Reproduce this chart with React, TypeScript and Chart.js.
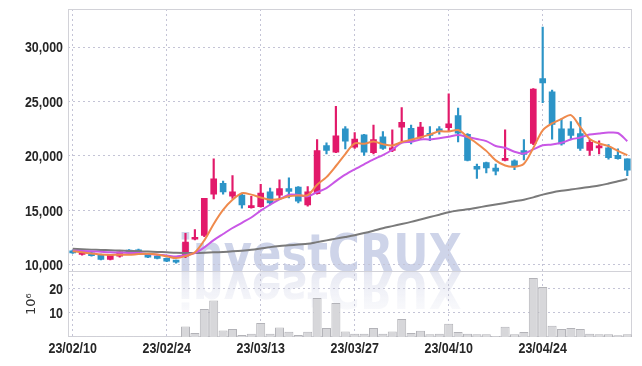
import React, { useEffect, useRef } from 'react';
import { Chart, registerables } from 'chart.js';

Chart.register(...registerables);

const dates = ['23/02/10','23/02/13','23/02/14','23/02/15','23/02/16','23/02/17','23/02/20','23/02/21','23/02/22','23/02/23','23/02/24','23/02/27','23/02/28','23/03/02','23/03/03','23/03/06','23/03/07','23/03/08','23/03/09','23/03/10','23/03/13','23/03/14','23/03/15','23/03/16','23/03/17','23/03/20','23/03/21','23/03/22','23/03/23','23/03/24','23/03/27','23/03/28','23/03/29','23/03/30','23/03/31','23/04/03','23/04/04','23/04/05','23/04/06','23/04/07','23/04/10','23/04/11','23/04/12','23/04/13','23/04/14','23/04/17','23/04/18','23/04/19','23/04/20','23/04/21','23/04/24','23/04/25','23/04/26','23/04/27','23/04/28','23/05/02','23/05/03','23/05/04','23/05/08','23/05/09'];

const opens = [11300,10950,11100,10950,10500,10800,11350,11250,10950,10800,10600,10400,10800,12350,12700,16500,17500,16300,16400,15250,15350,16700,16400,17000,17150,15500,16550,20950,20350,22500,20800,21950,20300,21750,20500,22650,22550,21700,22050,22400,22600,23700,22000,19050,19400,18900,19600,19550,20500,21150,27100,25900,22500,22500,22050,20500,20750,20750,20050,19750];
const highs = [11350,11200,11200,11000,10950,11200,11400,11450,11000,10850,10650,10450,12900,13250,16100,19750,17700,18200,16600,16300,17400,17050,17800,18000,17200,17200,21500,21200,24550,22700,22150,22000,22850,22250,22400,24450,22850,23100,22700,22700,25700,24400,22050,19250,19450,19250,22400,19650,21500,26200,31850,26050,23400,23150,23550,21500,21400,21050,20650,19750];
const lows = [11050,10900,10800,10450,10450,10700,11050,11100,10650,10550,10300,10150,10650,12300,12600,16050,16500,16100,15200,15200,15300,15500,16000,16150,15700,15400,16500,20200,20300,20650,20700,20050,20200,20600,20400,21350,21100,21600,21400,22000,22250,21300,19550,17950,18450,18250,19550,18750,19650,21050,24900,21550,21000,21500,20500,20050,20200,19700,19700,18200];
const closes = [11100,11150,10850,10500,10950,11200,11100,11200,10700,10600,10350,10250,12100,12450,16100,17900,16700,16700,15500,15450,16600,15700,17000,16750,15850,16700,20500,20500,21850,21350,21550,20350,21500,20700,20750,23100,21400,22650,21900,22300,22950,22100,19600,18800,18900,18600,19750,19050,20150,26150,26700,22900,21100,21900,20700,21250,20800,19850,19750,18700];

const ma5 = [11250,11150,11050,10950,10910,10930,10920,10990,11030,10960,10790,10620,10800,11150,12250,13760,15050,15970,16580,16450,16190,15990,16050,16300,16380,16400,17360,18060,19080,20180,21150,21120,21320,21090,20970,21280,21490,21720,21960,22270,22240,22380,21770,21150,20470,19600,19130,19020,19290,20740,22360,22990,23400,23750,22660,21570,21150,20900,20470,20070];
const ma10 = [11300,11280,11250,11200,11150,11120,11100,11080,11000,10935,10860,10770,10895,11090,11605,12275,12835,13385,13865,14350,14975,15520,16010,16440,16415,16295,16675,17055,17690,18280,18775,19240,19690,20085,20575,21215,21305,21520,21525,21620,21760,21935,21745,21555,21370,20920,20755,20395,20220,20605,20980,21060,21210,21520,21700,21965,22070,22150,22110,21365];
const ma60 = [11470,11440,11400,11370,11340,11310,11280,11250,11220,11190,11150,11110,11100,11100,11120,11150,11190,11240,11300,11380,11500,11630,11730,11800,11870,11930,12090,12250,12410,12560,12720,12920,13140,13370,13560,13750,13950,14170,14390,14610,14840,14990,15100,15250,15400,15550,15690,15840,15990,16200,16450,16650,16800,16920,17040,17160,17280,17470,17680,17880];

const volumes = [0.1,0.1,0.1,0.1,0.1,0.1,0.1,0.1,0.1,0.1,0.1,0.1,4.4,1.7,11.7,15.2,2.75,3.3,0.8,1.4,5.8,1.4,4.0,2.2,0.8,2.2,16.2,3.75,14.2,2.3,1.4,1.4,3.75,1.4,2.3,7.5,1.7,2.6,1.1,1.4,5.5,2.1,1.4,1.1,1.1,0.4,4.3,1.1,2.1,24.6,20.8,4.7,3.3,3.75,3.3,1.4,1.1,1.1,0.7,1.1];

const priceTicks = [10000, 15000, 20000, 25000, 30000];
const volumeTicks = [10, 20];

const PINK = '#e2196a';
const BLUE = '#2c94c7';
const ORANGE = '#ef8a4c';
const PURPLE = '#c957e6';
const GRAY = '#7a7a7a';
const GRID = '#c4c4d6';
const FRAME = '#d2d2d8';
const LABEL_FONT = "bold 15px 'Liberation Sans', Arial, sans-serif";
const LABEL_SQUEEZE = 0.83;

function drawSqueezed(ctx: CanvasRenderingContext2D, text: string, x: number, y: number, align: 'left' | 'right' | 'center') {
  ctx.save();
  ctx.font = LABEL_FONT;
  ctx.fillStyle = '#262626';
  ctx.textBaseline = 'middle';
  ctx.textAlign = align;
  ctx.translate(x, y);
  ctx.scale(LABEL_SQUEEZE, 1);
  ctx.fillText(text, 0, 0);
  ctx.restore();
}

const decorPlugin = {
  id: 'decor',
  beforeDraw(chart: any) {
    const ctx = chart.ctx as CanvasRenderingContext2D;
    const area = chart.chartArea;
    const base = chart.scales.y2.top;
    ctx.save();
    ctx.font = "bold 52px 'DejaVu Sans', sans-serif";
    const text = 'investCRUX';
    const w = ctx.measureText(text).width;
    const targetW = 284;
    const x0 = 178;
    ctx.save();
    ctx.translate(x0, base);
    ctx.scale(targetW / w, 1);
    ctx.fillStyle = 'rgb(206,212,233)';
    ctx.textBaseline = 'alphabetic';
    ctx.fillText(text, 0, 0);
    ctx.restore();
    ctx.save();
    ctx.beginPath();
    ctx.rect(area.left, base, area.right - area.left, area.bottom - base);
    ctx.clip();
    ctx.translate(x0, base);
    ctx.scale(targetW / w, -1);
    const g = ctx.createLinearGradient(0, 0, 0, -40);
    g.addColorStop(0, 'rgba(229,231,242,1)');
    g.addColorStop(1, 'rgba(240,241,247,0.4)');
    ctx.fillStyle = g;
    ctx.fillText(text, 0, 0);
    ctx.restore();
    ctx.restore();
  },
  beforeDatasetsDraw(chart: any) {
    const ctx = chart.ctx as CanvasRenderingContext2D;
    const a = chart.chartArea;
    const sep = chart.scales.y2.top;
    ctx.save();
    ctx.strokeStyle = FRAME;
    ctx.lineWidth = 1;
    ctx.strokeRect(Math.round(a.left) + 0.5, Math.round(a.top) + 0.5, Math.round(a.right - a.left) - 1, Math.round(a.bottom - a.top) - 1);
    ctx.beginPath();
    ctx.moveTo(a.left, Math.round(sep) + 0.5);
    ctx.lineTo(a.right, Math.round(sep) + 0.5);
    ctx.stroke();
    ctx.restore();
  },
  afterDraw(chart: any) {
    const ctx = chart.ctx as CanvasRenderingContext2D;
    const x = chart.scales.x;
    const y = chart.scales.y;
    const y2 = chart.scales.y2;
    const a = chart.chartArea;
    dates.forEach((d, i) => {
      if (i % 10 === 0) drawSqueezed(ctx, d, x.getPixelForValue(i), a.bottom + 12, 'center');
    });
    priceTicks.forEach((v) => drawSqueezed(ctx, v.toLocaleString('en-US'), a.left - 5, y.getPixelForValue(v) + 1, 'right'));
    volumeTicks.forEach((v) => drawSqueezed(ctx, String(v), a.left - 5, y2.getPixelForValue(v) + 1, 'right'));
  },
};

export default function App() {
  const ref = useRef<HTMLCanvasElement>(null);
  useEffect(() => {
    const canvas = ref.current;
    if (!canvas) return;
    const colors = closes.map((c, i) => (c >= opens[i] ? PINK : BLUE));
    const bodyData = opens.map((o, i) => [o, closes[i]]);
    const wickData = lows.map((l, i) => [l, highs[i]]);
    const chart = new Chart(canvas, {
      type: 'bar',
      data: {
        labels: dates,
        datasets: [
          { type: 'line', label: 'MA5', data: ma5, borderColor: ORANGE, borderWidth: 2, pointRadius: 0, tension: 0.3, yAxisID: 'y', order: 0 } as any,
          { type: 'line', label: 'MA10', data: ma10, borderColor: PURPLE, borderWidth: 2, pointRadius: 0, tension: 0.3, yAxisID: 'y', order: 1 } as any,
          { type: 'line', label: 'MA60', data: ma60, borderColor: GRAY, borderWidth: 2, pointRadius: 0, tension: 0.3, yAxisID: 'y', order: 2 } as any,
          { type: 'bar', label: 'body', data: bodyData, backgroundColor: colors, barThickness: 6, minBarLength: 2, grouped: false, yAxisID: 'y', order: 3 } as any,
          { type: 'bar', label: 'wick', data: wickData, backgroundColor: colors, barThickness: 1.5, grouped: false, yAxisID: 'y', order: 4 } as any,
          { type: 'bar', label: 'volume', data: volumes, backgroundColor: '#d7d7da', borderColor: '#b3b3b8', borderWidth: 1, barPercentage: 0.96, categoryPercentage: 1, grouped: false, yAxisID: 'y2', order: 5 } as any,
        ],
      },
      options: {
        animation: false,
        responsive: true,
        maintainAspectRatio: false,
        layout: { padding: { top: 9, right: 10, left: 0, bottom: 0 } },
        plugins: { legend: { display: false }, tooltip: { enabled: false } },
        scales: {
          x: {
            type: 'category',
            offset: true,
            grid: { color: (c: any) => (c.index % 10 === 0 ? GRID : 'rgba(0,0,0,0)'), drawTicks: false, offset: false },
            border: { display: false, dash: [2, 3] },
            ticks: { display: false, autoSkip: false },
            afterFit: (s: any) => { s.height = 29; },
          },
          y2: {
            type: 'linear',
            position: 'left',
            stack: 'panel',
            stackWeight: 1,
            min: 0,
            max: 27.3,
            afterBuildTicks: (s: any) => { s.ticks = volumeTicks.map((v) => ({ value: v })); },
            grid: { color: GRID, drawTicks: false },
            border: { display: false, dash: [2, 3] },
            ticks: { display: false },
            title: {
              display: true,
              text: '10⁶',
              color: '#333',
              font: { family: "'DejaVu Sans', sans-serif", size: 13 },
              padding: { top: 24, bottom: 0 },
            },
            afterFit: (s: any) => { s.width = 68; },
          },
          y: {
            type: 'linear',
            position: 'left',
            stack: 'panel',
            stackWeight: 4,
            min: 9400,
            max: 33500,
            afterBuildTicks: (s: any) => { s.ticks = priceTicks.map((v) => ({ value: v })); },
            grid: { color: GRID, drawTicks: false },
            border: { display: false, dash: [2, 3] },
            ticks: { display: false },
            afterFit: (s: any) => { s.width = 68; },
          },
        },
      } as any,
      plugins: [decorPlugin],
    });
    return () => chart.destroy();
  }, []);
  return (
    <div style={{ position: 'fixed', left: 0, top: 0, width: 642, height: 366, background: '#fff' }}>
      <canvas ref={ref} />
    </div>
  );
}
